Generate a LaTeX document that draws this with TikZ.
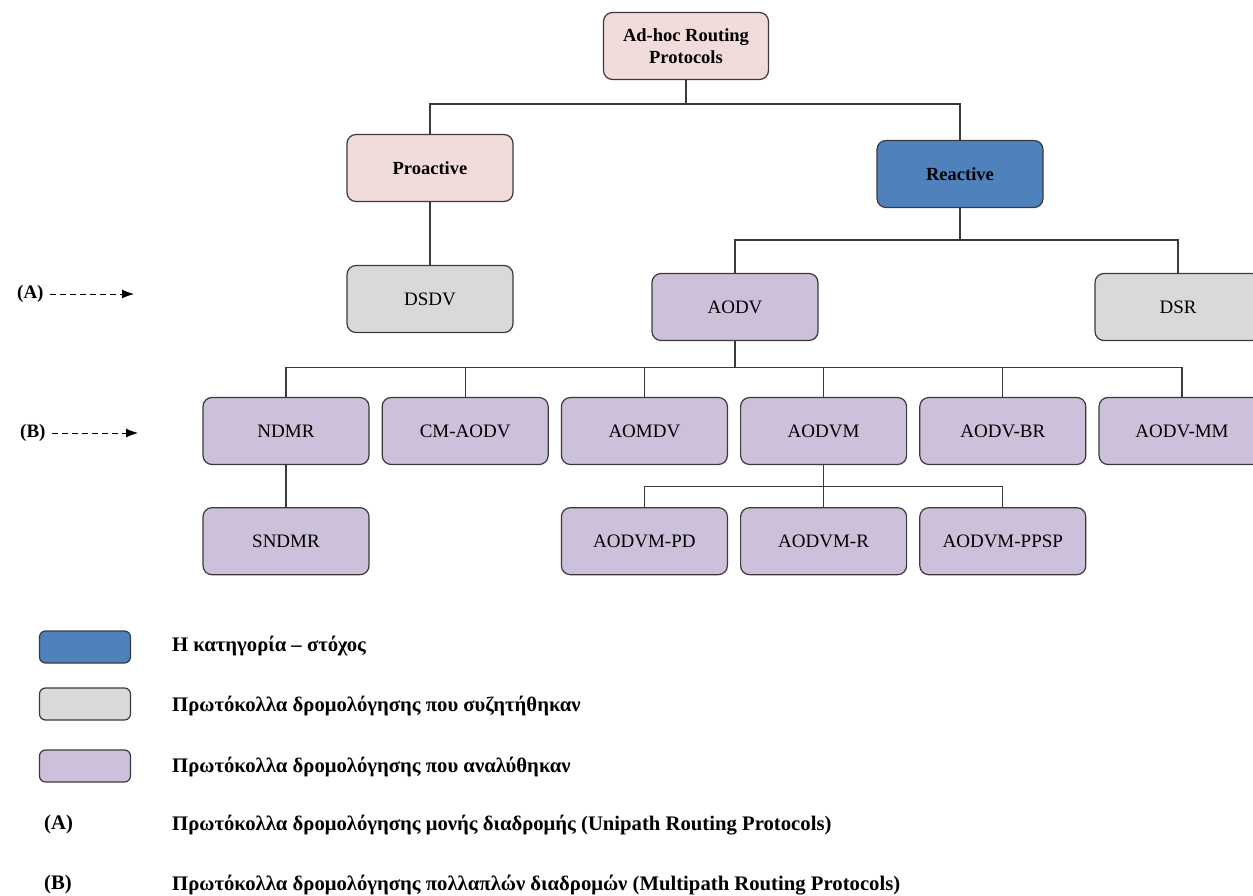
\documentclass[tikz,border=0pt]{standalone}
\usepackage{fontspec}
\setmainfont{Liberation Serif}
\usepackage{xcolor}
\usepackage{tikz}
\usetikzlibrary{positioning, arrows.meta}

\definecolor{rootpink}{HTML}{F2DCDB}
\definecolor{targetblue}{HTML}{4F81BD}
\definecolor{discgray}{HTML}{D9D9D9}
\definecolor{anpurple}{HTML}{CCC0DA}
\definecolor{edgegray}{HTML}{3A3A3A}

\begin{document}
\begin{tikzpicture}[
			x=1pt, y=-1pt,
			node distance=12pt,
			protobox/.style={draw=edgegray, line width=1.2pt, rounded corners=9pt, rectangle, minimum width=166pt, minimum height=67pt, align=center, font=\fontsize{19}{23}\selectfont},
			headbox/.style={protobox, font=\fontsize{18.5}{22}\selectfont\bfseries},
			legbox/.style={draw=edgegray, line width=1.2pt, rounded corners=6pt, rectangle, minimum width=91pt, minimum height=32pt},
			legtext/.style={anchor=west, inner sep=0pt, font=\fontsize{20.7}{24}\selectfont\bfseries},
			marktext/.style={anchor=west, inner sep=0pt, font=\fontsize{19}{23}\selectfont\bfseries},
			tree/.style={draw=edgegray, line width=1.2pt},
			markarrow/.style={dash pattern=on 6pt off 4pt, line width=1pt, -{Latex[length=12pt, width=9pt]}}
		]
		\useasboundingbox (0,0) rectangle (1253,896);

		% upper levels
		\node[headbox, fill=rootpink, minimum width=165pt] (root) at (686,46) {Ad-hoc Routing\\Protocols};
		\node[headbox, fill=rootpink] (proactive) at (430,168) {Proactive};
		\node[headbox, fill=targetblue] (reactive) at (960,174) {Reactive};
		\node[protobox, fill=discgray] (dsdv) at (430,299) {DSDV};
		\node[protobox, fill=anpurple] (aodv) at (735,307) {AODV};
		\node[protobox, fill=discgray] (dsr) at (1178,307) {DSR};

		% multipath row
		\node[protobox, fill=anpurple] (ndmr) at (286,431) {NDMR};
		\node[protobox, fill=anpurple, right=of ndmr] (cmaodv) {CM-AODV};
		\node[protobox, fill=anpurple, right=of cmaodv] (aomdv) {AOMDV};
		\node[protobox, fill=anpurple, right=of aomdv] (aodvm) {AODVM};
		\node[protobox, fill=anpurple, right=of aodvm] (aodvbr) {AODV-BR};
		\node[protobox, fill=anpurple, right=of aodvbr] (aodvmm) {AODV-MM};

		\node[protobox, fill=anpurple, below=42pt of ndmr] (sndmr) {SNDMR};
		\node[protobox, fill=anpurple, below=42pt of aodvm] (aodvmr) {AODVM-R};
		\node[protobox, fill=anpurple, left=of aodvmr] (aodvmpd) {AODVM-PD};
		\node[protobox, fill=anpurple, right=of aodvmr] (aodvmppsp) {AODVM-PPSP};

		\path[tree] (root.south) -- ++(0,24) -| (proactive);
		\path[tree] (root.south) -- ++(0,24) -| (reactive);
		\path[tree] (proactive) -- (dsdv);
		\path[tree] (reactive.south) -- ++(0,32) -| (aodv);
		\path[tree] (reactive.south) -- ++(0,32) -| (dsr);
		\foreach \child in {ndmr, cmaodv, aomdv, aodvm, aodvbr, aodvmm}
			\path[tree] (aodv.south) -- ++(0,26) -| (\child);
		\path[tree] (ndmr) -- (sndmr);
		\foreach \child in {aodvmpd, aodvmr, aodvmppsp}
			\path[tree] (aodvm.south) -- ++(0,21) -| (\child);

		% side marks
		\node[marktext] (amark) at (17,294) {(A)};
		\coordinate (aend) at (134,294);
		\draw[markarrow] ([xshift=6pt]amark.east) -- (aend);
		\node[marktext] (bmark) at (20,433) {(B)};
		\coordinate (bend) at (138,433);
		\draw[markarrow] ([xshift=6pt]bmark.east) -- (bend);

		% legend
		\node[legbox, fill=targetblue] (legtarget) at (85,647) {};
		\node[legbox, fill=discgray] (legdisc) at (85,704) {};
		\node[legbox, fill=anpurple] (legan) at (85,766) {};
		\node[legtext] (legtargettext) at (172,646) {Η κατηγορία – στόχος};
		\node[legtext] (legdisctext) at (172,706) {Πρωτόκολλα δρομολόγησης που συζητήθηκαν};
		\node[legtext] (legantext) at (172,767) {Πρωτόκολλα δρομολόγησης που αναλύθηκαν};
		\node[legtext] (lega) at (44,825) {(A)};
		\node[legtext] (legatext) at (172,825) {Πρωτόκολλα δρομολόγησης μονής διαδρομής (Unipath Routing Protocols)};
		\node[legtext] (legb) at (44,885) {(B)};
		\node[legtext] (legbtext) at (172,885) {Πρωτόκολλα δρομολόγησης πολλαπλών διαδρομών (Multipath Routing Protocols)};
	\end{tikzpicture}
\end{document}
